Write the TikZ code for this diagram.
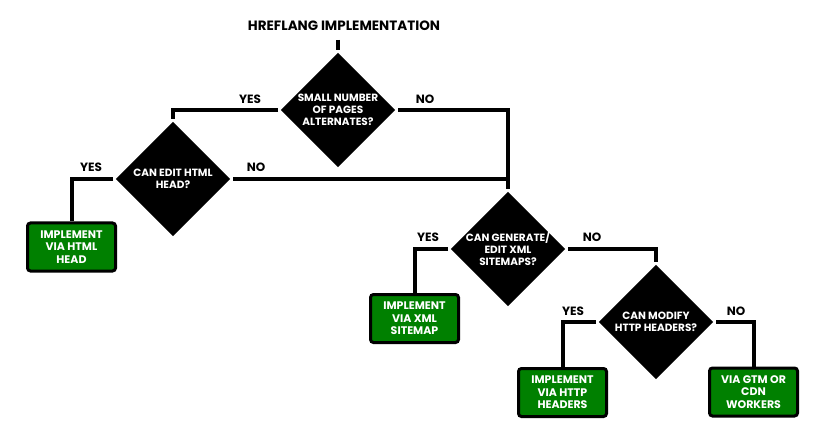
\documentclass[tikz,border=0pt]{standalone}
\usepackage{fontspec}
\setmainfont{Poppins}
\usepackage{tikz}
\usetikzlibrary{positioning,shapes.geometric}

\begin{document}
\begin{tikzpicture}[
			x=1pt, y=-1pt,
			line width=4pt,
			question/.style = {diamond, aspect=1, fill=black, minimum size=116pt, inner sep=-5pt, text=white, align=center, font=\bfseries\fontsize{10.5}{12}\selectfont},
			answer/.style = {draw, line width=3pt, fill=green!50!black, rounded corners=3pt, minimum width=88pt, minimum height=48pt, inner sep=0pt, text=white, align=center, font=\bfseries\fontsize{11}{12.5}\selectfont},
			choice/.style = {font=\bfseries\fontsize{12}{14}\selectfont}
		]
		\useasboundingbox (0,0) rectangle (818,438);
		\node[font=\bfseries\fontsize{13.5}{15}\selectfont] (title) at (344,26) {HREFLANG IMPLEMENTATION};
		\coordinate (start) at (338,40);
		% Level 1.
		\node[question] (pages) at (338,110) {SMALL NUMBER\\OF PAGES\\ALTERNATES?};
		% Level 2.
		\node[question] (head) at (173,179) {CAN EDIT HTML\\HEAD?};
		\node[answer] (viahead) at (71.5,247) {IMPLEMENT\\VIA HTML\\HEAD};
		% Level 3.
		\node[question] (sitemaps) at (508,249) {CAN GENERATE/\\EDIT XML\\SITEMAPS?};
		\node[answer] (viasitemap) at (414.5,318.5) {IMPLEMENT\\VIA XML\\SITEMAP};
		% Level 4.
		\node[question] (headers) at (656,322) {CAN MODIFY\\HTTP HEADERS?};
		\node[answer] (viaheaders) at (562.5,392.5) {IMPLEMENT\\VIA HTTP\\HEADERS};
		\node[answer] (viacdn) at (753.5,392) {VIA GTM OR\\CDN\\WORKERS};
		
		\node[choice] (pagesyes) at (250,99) {YES};
		\node[choice] (pagesno) at (425,99) {NO};
		\node[choice] (headyes) at (91,167) {YES};
		\node[choice] (headno) at (256,167) {NO};
		\node[choice] (sitemapsyes) at (428,237) {YES};
		\node[choice] (sitemapsno) at (592,237) {NO};
		\node[choice] (headersyes) at (573,311) {YES};
		\node[choice] (headersno) at (736,311) {NO};
		
		\draw (start) to (pages.north);
		\draw (pages.west) -| (head.north);
		\draw (pages.east) -| (sitemaps.north);
		\draw (head.west) -| (viahead.north);
		\draw (head.east) -- (head.east -| sitemaps.north);
		\draw (sitemaps.west) -| (viasitemap.north);
		\draw (sitemaps.east) -| (headers.north);
		\draw (headers.west) -| (viaheaders.north);
		\draw (headers.east) -| (viacdn.north);
	\end{tikzpicture}
\end{document}
